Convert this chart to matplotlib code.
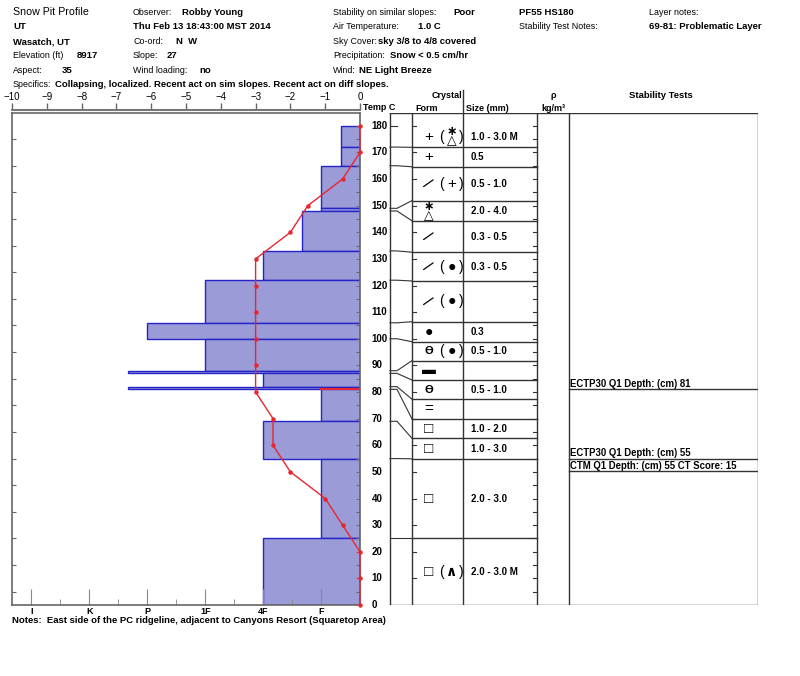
import matplotlib
matplotlib.use("Agg")
import matplotlib.pyplot as plt

plt.rcParams['font.family'] = ['Liberation Sans', 'DejaVu Sans']

# snow layers, top to bottom (cm)
layer_tops = [180, 172, 165, 149, 148, 133, 122, 106, 100, 88, 87, 82, 81, 69, 55, 25]
hardness = ["F-", "F-", "F", "F", "F+", "4F", "1F", "P", "1F", "P+", "4F", "P+", "F", "4F", "F", "4F"]
# top of each layer's row in the crystal table (cm scale)
row_tops = [180, 171.9, 164.6, 151.9, 144.3, 132.5, 121.7, 106.4, 98.9, 91.8, 84.5, 77.3, 69.9, 62.6, 54.9, 25.0]
form_main = ["+", "+", "DF", "PPgp", "DF", "DF", "DF", "RG", "FCxr", "IF", "FCxr", "IFcr", "FC", "FC", "FC", "FC"]
form_minor = ["PPgp", "", "+", "", "", "RG", "RG", "", "RG", "", "", "", "", "", "", "DH"]
grain_size = ["1.0 - 3.0 M", "0.5", "0.5 - 1.0", "2.0 - 4.0", "0.3 - 0.5", "0.3 - 0.5", "",
              "0.3", "0.5 - 1.0", "", "0.5 - 1.0", "", "1.0 - 2.0", "1.0 - 3.0", "2.0 - 3.0",
              "2.0 - 3.0 M"]

temp_height = [180, 170, 160, 150, 140, 130, 120, 110, 100, 90, 80, 70, 60, 50, 40, 30, 20, 10, 0]
temp_c = [0, 0, -0.5, -1.5, -2, -3, -3, -3, -3, -3, -3, -2.5, -2.5, -2, -1, -0.5, 0, 0, 0]

hard_labels = ["F", "4F", "1F", "P", "K", "I"]

tests = ["ECTP30 Q1 Depth: (cm) 81", "ECTP30 Q1 Depth: (cm) 55",
         "CTM Q1 Depth: (cm) 55 CT Score: 15"]
test_rows = [81, 55, 50.3]
problem_top = 81

W, H = 800, 676
TOP = 184.8
BAR = '#9b9bd8'
EDGE = '#2424c8'
RED = '#e8262e'
GRID = '#333333'

GLYPHS = {"+": "+", "RG": "\u25cf", "FC": "\u25a1", "DH": "\u2227", "IF": "\u25ac",
          "IFcr": "=", "FCxr": "\u04e8", "PPgp": "\u2217\n\u25b3"}


def hv(code):
    core = code.rstrip("+-")
    v = hard_labels.index(core) + 1 - 1 / 3
    if code.endswith("+"):
        v += 1 / 3
    elif code.endswith("-"):
        v -= 1 / 3
    return v


def ftext(x, y, s, **kw):
    kw.setdefault("fontsize", 6.4)
    kw.setdefault("va", "baseline")
    fig.text(x / W, 1 - y / H, s, **kw)


def btext(x, y, s, **kw):
    kw.setdefault("fontsize", 6.8)
    ftext(x, y, s, fontweight="bold", **kw)


def draw_form(ax, x, y, code):
    if code == "DF":
        ax.text(x, y, "\u2014", rotation=35, rotation_mode="anchor", ha="center",
                va="center", fontsize=9, fontweight="bold")
    elif code == "PPgp":
        ax.text(x, y, GLYPHS[code], ha="center", va="center", fontsize=9,
                linespacing=0.62, family="DejaVu Sans", fontweight="bold")
    elif code in ("+", "IFcr"):
        ax.text(x, y, GLYPHS[code], ha="center", va="center", fontsize=11)
    elif code == "FCxr":
        ax.text(x, y, GLYPHS[code], ha="center", va="center", fontsize=8,
                fontweight="bold")
    elif code == "FC":
        ax.text(x, y, GLYPHS[code], ha="center", va="center", fontsize=11,
                fontweight="bold")
    else:
        ax.text(x, y, GLYPHS[code], ha="center", va="center", fontsize=10,
                fontweight="bold")


fig = plt.figure(figsize=(8, 6.76), dpi=100)

# ---- hardness / temperature plot
ax = fig.add_axes([12 / W, (H - 605) / H, 348 / W, 492 / H])
ax.set_xlim(6, 0)
ax.set_ylim(0, TOP)
bottoms = layer_tops[1:] + [0]
for top, bot, hd in zip(layer_tops, bottoms, hardness):
    ax.barh(bot, hv(hd), height=top - bot, left=0, align="edge",
            color=BAR, edgecolor=EDGE, linewidth=1)
ax.plot([0, hv(hardness[layer_tops.index(problem_top)])], [problem_top] * 2,
        color=RED, lw=1.5)

ax.set_xticks([hv(h) for h in hard_labels], hard_labels, fontsize=6.5, fontweight="bold")
ax.set_xticks([hv(h) + 0.5 for h in hard_labels[:-1]], minor=True)
ax.tick_params(axis="x", which="major", direction="in", length=11.5, top=True,
               bottom=True, color="#888888", pad=1.5)
ax.tick_params(axis="x", which="minor", direction="in", length=4, top=True,
               bottom=True, color="#888888")
ax.set_yticks(range(5, 180, 10), [])
ax.set_yticks(range(10, 181, 10), minor=True)
ax.tick_params(axis="y", which="major", direction="in", length=3, left=True,
               right=True, color="#666666")
ax.tick_params(axis="y", which="minor", direction="in", length=3, left=False,
               right=True, color="#666666")
for s in ax.spines.values():
    s.set_color("#666666")
    s.set_linewidth(1.2)

axt = ax.twiny()
axt.set_xlim(-10, 0)
axt.plot(temp_c, temp_height, color=RED, lw=1, marker="o", ms=2.2, clip_on=False)
axt.set_xticks(range(-10, 1))
axt.tick_params(axis="x", direction="out", length=5, width=1, color="#666666",
                labelsize=7, pad=0.5)
for lab in axt.get_xticklabels():
    lab.set_fontweight("bold")
axt.tick_params(axis="y", which="both", left=False, right=False)
axt.spines["top"].set_position(("outward", 2.2))
axt.spines["top"].set_color("#777777")
axt.spines["top"].set_linewidth(1.5)
for k in ("left", "right", "bottom"):
    axt.spines[k].set_visible(False)

# ---- crystal / stability table
tab = fig.add_axes([360 / W, (H - 605) / H, 398 / W, 492 / H])
tab.set_xlim(360, 758)
tab.set_ylim(0, TOP)
tab.axis("off")
for x in (390, 412, 463, 537, 569, 758):
    tab.plot([x, x], [0, TOP], color=GRID, lw=1)
tab.plot([390, 758], [TOP, TOP], color=GRID, lw=1)
tab.plot([390, 758], [0, 0], color=GRID, lw=1)
tab.plot([463, 463], [TOP, TOP + 8.5], color=GRID, lw=1, clip_on=False)

for h in range(0, 181, 10):
    tab.text(371.5, h, str(h), ha="left", va="center", fontsize=7, fontweight="bold")
    if h > 0:
        tab.plot([412, 416], [h, h], color=GRID, lw=0.8)
for h in range(5, 181, 5):
    tab.plot([533, 537], [h, h], color=GRID, lw=0.8)

for i, (top, row) in enumerate(zip(layer_tops, row_tops)):
    if i == 0:
        tab.plot([390, 397], [top, top], color=GRID, lw=0.8)
    else:
        tab.plot([390, 397, 412], [top, top, row], color=GRID, lw=0.8)
        tab.plot([412, 537], [row, row], color=GRID, lw=1)

row_bots = row_tops[1:] + [0]
for rt, rb, fm, fs, gs in zip(row_tops, row_bots, form_main, form_minor, grain_size):
    yc = (rt + rb) / 2
    draw_form(tab, 429, yc, fm)
    if fs:
        tab.text(441, yc, "(", ha="center", va="center", fontsize=10)
        draw_form(tab, 452, yc, fs)
        tab.text(461, yc, ")", ha="center", va="center", fontsize=10)
    if gs:
        tab.text(471, yc, gs, ha="left", va="center", fontsize=7, fontweight="bold")

for t, d in zip(tests, test_rows):
    tab.plot([569, 758], [d, d], color=GRID, lw=1)
    tab.text(570, d + 0.8, t, ha="left", va="baseline", fontsize=6.9, fontweight="bold")

# ---- header
ftext(13, 15, "Snow Pit Profile", fontsize=7.7)
btext(13, 29.3, "UT")
btext(13, 44, "Wasatch, UT")
ftext(13, 58.3, "Elevation (ft)")
btext(77, 58.3, "8917")
ftext(13, 72.7, "Aspect:")
btext(62, 72.7, "35")

ftext(133, 15, "Observer:")
btext(182.5, 15, "Robby Young")
btext(133, 29.3, "Thu Feb 13 18:43:00 MST 2014")
ftext(133, 44, "Co-ord:")
btext(175.5, 44, "N  W")
ftext(133, 58.3, "Slope:")
btext(167, 58.3, "27")
ftext(133, 72.7, "Wind loading:")
btext(199, 72.7, "no")

ftext(333, 15, "Stability on similar slopes:")
btext(453, 15, "Poor")
ftext(333, 29.3, "Air Temperature:")
btext(418, 29.3, "1.0 C")
ftext(333, 44, "Sky Cover:")
btext(377.5, 44, "sky 3/8 to 4/8 covered")
ftext(333, 58.3, "Precipitation:")
btext(390, 58.3, "Snow < 0.5 cm/hr")
ftext(333, 72.7, "Wind:")
btext(359, 72.7, "NE Light Breeze")

btext(519, 15, "PF55 HS180")
ftext(519, 29.3, "Stability Test Notes:")
ftext(649, 15, "Layer notes:")
btext(649, 29.3, "69-81: Problematic Layer")

ftext(13, 87.3, "Specifics:")
btext(55, 87.3, "Collapsing, localized. Recent act on sim slopes. Recent act on diff slopes.")

btext(363, 110, "Temp C", fontsize=6.5)
btext(447, 98.3, "Crystal", fontsize=6.5, ha="center")
btext(415, 111, "Form", fontsize=6.5)
btext(466, 111, "Size (mm)", fontsize=6.5)
btext(553, 98.3, "\u03c1", fontsize=6.5, ha="center")
btext(553, 111, "kg/m\u00b3", fontsize=6.5, ha="center")
btext(629, 98.3, "Stability Tests")

btext(12, 623, "Notes:  East side of the PC ridgeline, adjacent to Canyons Resort (Squaretop Area)")

fig.savefig("out.png", dpi=100)
